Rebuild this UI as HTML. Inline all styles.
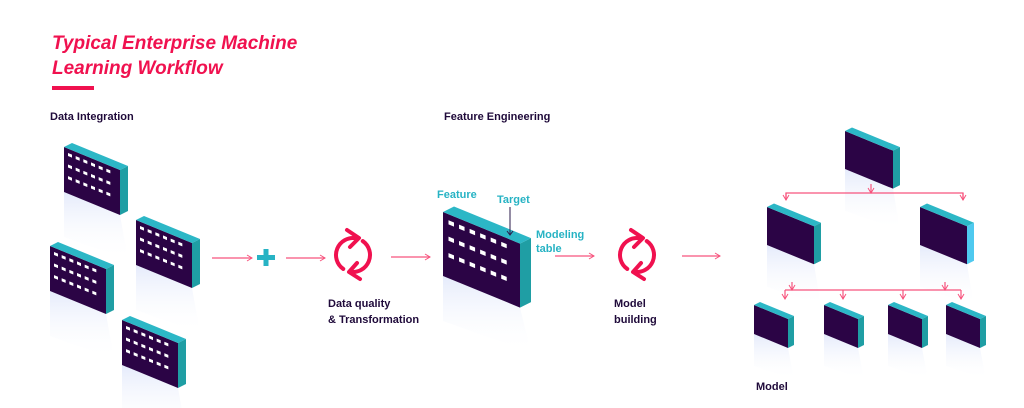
<!DOCTYPE html>
<html><head><meta charset="utf-8"><style>
html,body{margin:0;padding:0;background:#fff;width:1024px;height:408px;overflow:hidden}
svg{display:block}
.h{font-family:"Liberation Sans",sans-serif;font-weight:bold;font-size:11px;fill:#1f0a3a}
.t{font-family:"Liberation Sans",sans-serif;font-weight:bold;font-size:11px;fill:#27b3c4}
.ti{font-family:"Liberation Sans",sans-serif;font-weight:bold;font-style:italic;font-size:19px;fill:#f0114f}
</style></head><body>
<svg id="s" width="1024" height="408" viewBox="0 0 1024 408" xmlns="http://www.w3.org/2000/svg">
<defs>
<linearGradient id="g" x1="0" y1="0" x2="0" y2="1"><stop offset="0" stop-color="#cfdaf8" stop-opacity="0.55"/><stop offset="1" stop-color="#fff" stop-opacity="0"/></linearGradient>
<marker id="a" markerWidth="8" markerHeight="8" refX="6" refY="4" orient="auto" markerUnits="userSpaceOnUse"><path d="M1,1 L6,4 L1,7" fill="none" stroke="#f7537d" stroke-width="1"/></marker>
</defs>
<text class="ti" x="52" y="49">Typical Enterprise Machine</text>
<text class="ti" x="52" y="74">Learning Workflow</text>
<rect x="52" y="86" width="42" height="4" fill="#f0114f"/>
<text class="h" x="50" y="120">Data Integration</text>
<text class="h" x="444" y="120">Feature Engineering</text>
<text class="h" x="328" y="307">Data quality</text>
<text class="h" x="328" y="323">&amp; Transformation</text>
<text class="h" x="614" y="307">Model</text>
<text class="h" x="614" y="323">building</text>
<text class="h" x="756" y="390">Model</text>
<text class="t" x="437" y="198">Feature</text>
<text class="t" x="497" y="203">Target</text>
<text class="t" x="536" y="238">Modeling</text>
<text class="t" x="536" y="252">table</text>
<g id="blocks"></g>
<g stroke="#f7537d" stroke-width="1.2" fill="none">
<line x1="212" y1="258" x2="252" y2="258" marker-end="url(#a)"/>
<line x1="286" y1="258" x2="325" y2="258" marker-end="url(#a)"/>
<line x1="391" y1="257" x2="430" y2="257" marker-end="url(#a)"/>
<line x1="555" y1="256" x2="594" y2="256" marker-end="url(#a)"/>
<line x1="682" y1="256" x2="720" y2="256" marker-end="url(#a)"/>
<line x1="871" y1="184" x2="871" y2="193" marker-end="url(#a)"/>
<path d="M786,200 V193 H963 V200" />
<line x1="786" y1="193" x2="786" y2="200" marker-end="url(#a)"/>
<line x1="963" y1="193" x2="963" y2="200" marker-end="url(#a)"/>
<line x1="792" y1="282" x2="792" y2="290" marker-end="url(#a)"/>
<line x1="945" y1="282" x2="945" y2="290" marker-end="url(#a)"/>
<path d="M785,290 H961"/>
<line x1="785" y1="290" x2="785" y2="299" marker-end="url(#a)"/>
<line x1="843" y1="290" x2="843" y2="299" marker-end="url(#a)"/>
<line x1="903" y1="290" x2="903" y2="299" marker-end="url(#a)"/>
<line x1="961" y1="290" x2="961" y2="299" marker-end="url(#a)"/>
</g>
<g stroke="#2a1a4a" stroke-width="1" fill="none">
<line x1="510" y1="207" x2="510" y2="234"/><path d="M507,231 L510,235 L513,231"/>
</g>
<g fill="#27b3c4"><rect x="257" y="255" width="18" height="5"/><rect x="263.5" y="249" width="5" height="17"/></g>
<g id="ref"></g>
</svg>
<script>
var B=document.getElementById('blocks'),out='';
function blk(x,y,w,h,d,win,side){
  var s=0.41,dy=d*0.5,rh=Math.min(45,h*1.1);
  out+='<polygon points="'+x+','+(y+h)+' '+(x+w)+','+(y+h+w*s)+' '+(x+w+d)+','+(y+h+w*s+rh)+' '+x+','+(y+h+rh)+'" fill="url(#g)"/>';
  out+='<polygon points="'+x+','+y+' '+(x+w)+','+(y+w*s)+' '+(x+w)+','+(y+w*s+h)+' '+x+','+(y+h)+'" fill="#2b0445"/>';
  out+='<polygon points="'+x+','+y+' '+(x+d)+','+(y-dy)+' '+(x+w+d)+','+(y+w*s-dy)+' '+(x+w)+','+(y+w*s)+'" fill="#2cb7c6"/>';
  out+='<polygon points="'+(x+w)+','+(y+w*s)+' '+(x+w+d)+','+(y+w*s-dy)+' '+(x+w+d)+','+(y+w*s-dy+h)+' '+(x+w)+','+(y+w*s+h)+'" fill="'+(side||'#1f9ea4')+'"/>';
  if(win){var k=w/56,cw=(w-10*k)/6,ww=4*k,wh=3*k;for(var r=0;r<3;r++)for(var c=0;c<6;c++){var wx=x+4*k+c*cw,wy=y+6*k+r*h/3.9+c*cw*s;
    out+='<polygon points="'+wx+','+wy+' '+(wx+ww)+','+(wy+ww*s)+' '+(wx+ww)+','+(wy+ww*s+wh)+' '+wx+','+(wy+wh)+'" fill="#fff"/>';}}
}
blk(64,147,56,45,8,1);
blk(136,220,56,45,8,1);
blk(50,246,56,45,8,1);
blk(122,320,56,45,8,1);
blk(443,212,77,64,11,1);
blk(845,131,48,38,7,0);
blk(767,207,47,38,7,0);
blk(920,207,47,38,7,0,'#4fc9ef');
[754,824,888,946].forEach(function(x){blk(x,305,34,29,6,0);});
B.innerHTML=out;
function refresh(cx,cy){
  var r=17,o='';
  function p(a){return [cx+r*Math.cos(a*Math.PI/180),cy+r*Math.sin(a*Math.PI/180)];}
  var a1=p(-80),a2=p(125),b1=p(-55),b2=p(100);
  o+='<path d="M'+a1+' A'+r+','+r+' 0 0 0 '+a2+'" fill="none" stroke="#f0114f" stroke-width="4" stroke-linecap="round"/>';
  o+='<path d="M'+b1+' A'+r+','+r+' 0 0 1 '+b2+'" fill="none" stroke="#f0114f" stroke-width="4" stroke-linecap="round"/>';
  o+='<path d="M'+(cx-6)+','+(cy-25)+' L'+(cx+6)+','+(cy-17)+' L'+(cx-3)+','+(cy-8)+'" fill="none" stroke="#f0114f" stroke-width="4" stroke-linecap="round" stroke-linejoin="round"/>';
  o+='<path d="M'+(cx+4)+','+(cy+8)+' L'+(cx-4)+','+(cy+17)+' L'+(cx+7)+','+(cy+24)+'" fill="none" stroke="#f0114f" stroke-width="4" stroke-linecap="round" stroke-linejoin="round"/>';
  return o;
}
document.getElementById('ref').innerHTML=refresh(353,255)+refresh(637,255);
</script>
</body></html>
